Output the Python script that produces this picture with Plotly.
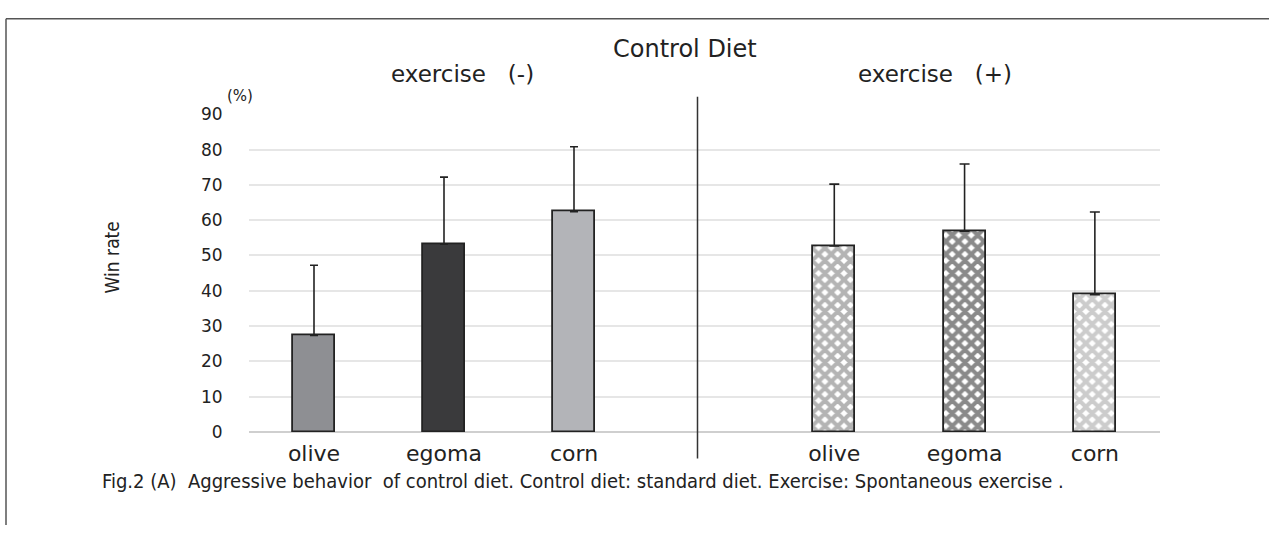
import plotly.graph_objects as go

W, H = 1269, 535

oils = ["olive", "egoma", "corn"]
mean_ex_minus = [27.3, 53.2, 62.4]
sd_ex_minus = [19.9, 19.0, 18.4]
mean_ex_plus = [52.7, 56.9, 38.9]
sd_ex_plus = [17.5, 19.0, 23.4]
group_titles = ["exercise   (-)", "exercise   (+)"]
main_title = "Control Diet"
y_label = "Win rate"
y_unit = "(%)"
y_ticks = [0, 10, 20, 30, 40, 50, 60, 70, 80, 90]
caption = ("Fig.2 (A)  Aggressive behavior  of control diet. Control diet: standard diet. "
           "Exercise: Spontaneous exercise .")

solid_colors = ["#8e8f93", "#3a3a3c", "#b3b4b8"]
checker_colors = ["#6a6a6a", "#161616", "#999999"]

NUM_FONT = "DejaVu Sans"
NARROW_FONT = "Liberation Sans Narrow, DejaVu Sans Condensed, Roboto, Arial"


def px(x):
    return x / W


def py(y):
    return 1 - y / H


fig = go.Figure()

fig.add_trace(go.Bar(
    x=oils, y=mean_ex_minus, xaxis="x", yaxis="y",
    width=0.323,
    marker=dict(color=solid_colors, line=dict(color="#222222", width=1.8)),
    error_y=dict(type="data", array=sd_ex_minus, symmetric=False,
                 arrayminus=[0] * len(oils), color="#222222", thickness=1.6, width=4),
    showlegend=False,
))

fig.add_trace(go.Bar(
    x=oils, y=mean_ex_plus, xaxis="x2", yaxis="y2",
    width=0.323,
    marker=dict(color="white", line=dict(color="#222222", width=1.8),
                pattern=dict(shape="x", fgcolor=checker_colors, bgcolor="white",
                             size=9, solidity=0.7)),
    error_y=dict(type="data", array=sd_ex_plus, symmetric=False,
                 arrayminus=[0] * len(oils), color="#222222", thickness=1.6, width=5),
    showlegend=False,
))

y_top, y_zero = 108.3, 438.3
ydom = [1 - y_zero / H, 1 - y_top / H]
xsplit = 704

common_y = dict(range=[0, 90], autorange=False, domain=ydom, tickvals=y_ticks,
                showgrid=True, gridcolor="#e6e6e6", gridwidth=1.5,
                zeroline=True, zerolinecolor="#cfcfcf", zerolinewidth=1.5,
                showline=False, fixedrange=True)

xfont = dict(family=NUM_FONT, size=22, color="#222222")

fig.update_layout(
    width=W, height=H,
    margin=dict(l=0, r=0, t=0, b=0),
    paper_bgcolor="white", plot_bgcolor="white",
    bargap=0,
    xaxis=dict(domain=[px(249), px(xsplit)], range=[-0.5, 3.0], type="category",
               showgrid=False, showline=False, zeroline=False,
               ticks="outside", ticklen=2, tickcolor="rgba(0,0,0,0)", tickfont=xfont),
    xaxis2=dict(domain=[px(xsplit), px(1160)], range=[-1.0, 2.5], type="category",
                showgrid=False, showline=False, zeroline=False,
                ticks="outside", ticklen=2, tickcolor="rgba(0,0,0,0)", tickfont=xfont),
    yaxis=dict(**common_y, ticks="outside", ticklen=22, tickcolor="rgba(0,0,0,0)",
               tickfont=dict(family=NUM_FONT, size=17, color="#222222")),
    yaxis2=dict(**common_y, anchor="x2", showticklabels=False),
)

shapes = [
    dict(type="line", xref="paper", yref="paper", x0=px(6), x1=px(1269), y0=py(9), y1=py(9),
         line=dict(color="#555555", width=1.5)),
    dict(type="line", xref="paper", yref="paper", x0=px(6), x1=px(6), y0=py(9), y1=py(535),
         line=dict(color="#555555", width=1.5)),
    dict(type="line", xref="paper", yref="paper", x0=px(697.5), x1=px(697.5), y0=py(90), y1=py(466),
         line=dict(color="#333333", width=1.5)),
]
fig.update_layout(shapes=shapes)

ann = [
    dict(text=main_title, x=px(685), y=py(40), font=dict(family=NUM_FONT, size=24, color="#222222")),
    dict(text=group_titles[0], x=px(462), y=py(67), font=dict(family=NUM_FONT, size=23, color="#222222")),
    dict(text=group_titles[1], x=px(935), y=py(67), font=dict(family=NUM_FONT, size=23, color="#222222")),
    dict(text=y_unit, x=px(240), y=py(89), font=dict(family=NUM_FONT, size=15, color="#222222")),
    dict(text=y_label, x=px(112), y=py(257), textangle=-90,
         font=dict(family=NARROW_FONT, size=19, color="#222222")),
    dict(text=caption, x=px(583), y=py(489), font=dict(family=NARROW_FONT, size=20, color="#222222")),
]
for a in ann:
    a.update(xref="paper", yref="paper", showarrow=False, xanchor="center", yanchor="middle")
fig.update_layout(annotations=ann)

post = (
    "document.documentElement.style.margin='0';"
    "document.documentElement.style.overflow='hidden';"
    "document.body.style.margin='0';"
    "document.body.style.overflow='hidden';"
    "var d=document.getElementById('{plot_id}');"
    "d.style.position='fixed';d.style.top='0px';d.style.left='0px';"
)

fig.write_html("out.html", config={"displayModeBar": False}, post_script=post)
